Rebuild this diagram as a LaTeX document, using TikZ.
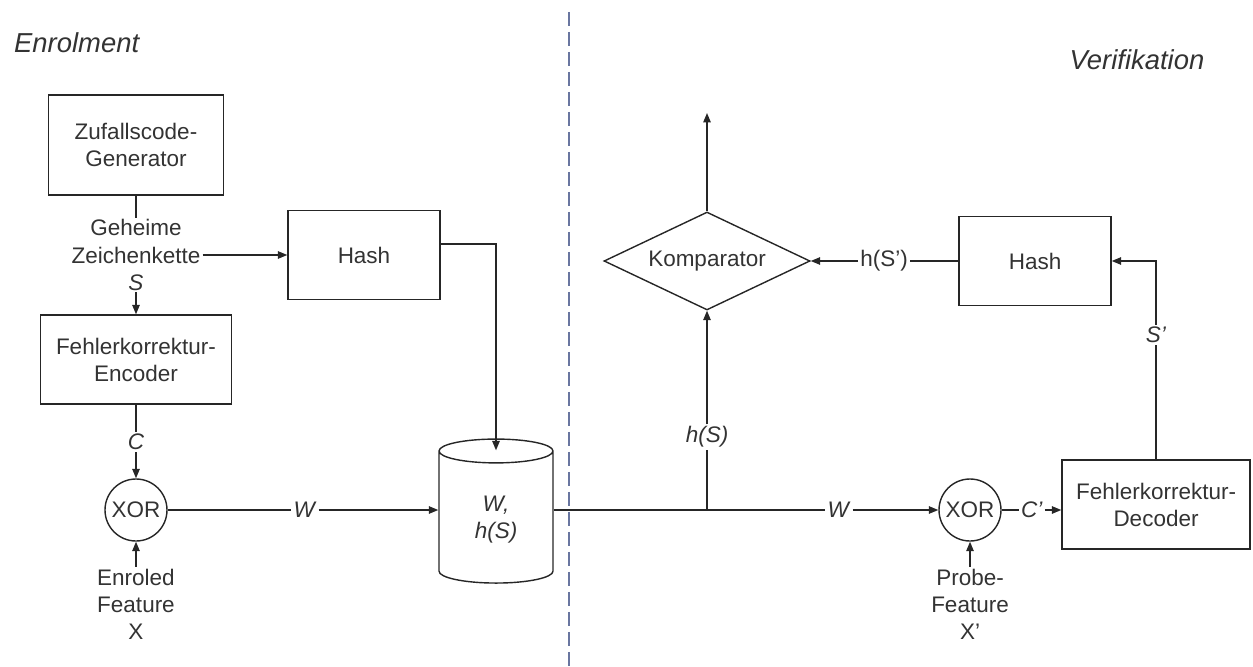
\documentclass[tikz,border=0pt]{standalone}
\usepackage{fontspec}
\setmainfont{Liberation Sans}
\usetikzlibrary{shapes.geometric,arrows.meta}

\begin{document}
\begin{tikzpicture}[
  fetext/.style = {text=black!80, font=\fontsize{12.8}{15.4}\selectfont},
  feblock/.style = {fetext, draw=black!85, line width=0.8pt, align=center,
    minimum width=3.04cm, minimum height=1.78cm},
  fexor/.style = {fetext, circle, draw=black!85, line width=0.8pt,
    minimum size=1.24cm, inner sep=0pt},
  fecmp/.style = {fetext, diamond, draw=black!85, line width=0.8pt, aspect=2.1,
    minimum width=4.12cm, minimum height=1.96cm, inner sep=0pt},
  fedb/.style = {fetext, cylinder, shape border rotate=90, draw=black!85,
    line width=0.8pt, aspect=0.44, minimum width=2.28cm, minimum height=2.88cm,
    align=center, font=\fontsize{12.8}{15.4}\selectfont\itshape},
  felbl/.style = {fetext, fill=white, inner sep=1pt, align=center},
  fehead/.style = {text=black!80, font=\fontsize{15.6}{18}\selectfont\itshape},
  feline/.style = {draw=black!85, line width=0.8pt},
  fearrow/.style = {feline, -{Triangle[length=1.9mm,width=1.5mm]}},
  fediv/.style = {draw={rgb,255:red,105;green,118;blue,160}, line width=0.8pt,
    dash pattern=on 0.28cm off 0.12cm}
]
  \useasboundingbox (0,0) rectangle (25.06,-13.34);

  % Trennlinie und Ueberschriften
  \draw[fediv] (11.38,-0.24) -- (11.38,-13.34);
  \node[fehead, anchor=west] (enr) at (0.16,-0.86) {Enrolment};
  \node[fehead] (ver) at (22.74,-1.2) {Verifikation};

  % Enrolment
  \node[feblock, minimum width=3.5cm, minimum height=2.0cm] (zuf) at (2.72,-2.9) {Zufallscode-\\Generator};
  \node[felbl] (secret) at (2.72,-5.1) {Geheime\\Zeichenkette\\\textit{S}};
  \node[feblock] (hash1) at (7.28,-5.1) {Hash};
  \node[feblock, minimum width=3.82cm] (enc) at (2.72,-7.19) {Fehlerkorrektur-\\Encoder};
  \node[felbl] (clbl) at (2.72,-8.84) {\textit{C}};
  \node[fexor] (xor1) at (2.72,-10.2) {XOR};
  \node[felbl] (enrx) at (2.72,-12.08) {Enroled\\Feature\\X};
  \node[felbl] (w1) at (6.1,-10.2) {\textit{W}};
  \node[fedb] (db) at (9.92,-10.4) {W,\\h(S)};

  % Verifikation
  \node[fecmp] (komp) at (14.14,-5.22) {Komparator};
  \coordinate (out) at (14.14,-2.26);
  \coordinate (jn) at (14.14,-10.2);
  \node[felbl] (hs) at (14.14,-8.74) {\textit{h(S)}};
  \node[felbl] (w2) at (16.78,-10.2) {\textit{W}};
  \node[fexor] (xor2) at (19.4,-10.2) {XOR};
  \node[felbl] (cp) at (20.64,-10.2) {\textit{C'}};
  \node[feblock, minimum width=3.76cm] (dec) at (23.12,-10.09) {Fehlerkorrektur-\\Decoder};
  \node[felbl] (sp) at (23.12,-6.7) {\textit{S'}};
  \node[feblock] (hash2) at (20.7,-5.22) {Hash};
  \node[felbl] (hsp) at (17.68,-5.22) {h(S')};
  \node[felbl] (probe) at (19.4,-12.08) {Probe-\\Feature\\X'};

  % Verbindungen
  \draw[feline] (zuf) -- (secret);
  \draw[fearrow] (secret) -- (enc);
  \draw[fearrow] (secret.east) -- (secret.east -| hash1.west);
  \draw[fearrow] ([yshift=0.22cm]hash1.east) -| ([yshift=-0.24cm]db.north);
  \draw[feline] (enc) -- (clbl);
  \draw[fearrow] (clbl) -- (xor1);
  \draw[fearrow] (enrx) -- (xor1);
  \draw[feline] (xor1) -- (w1);
  \draw[fearrow] (w1) -- (w1 -| db.west);
  \draw[feline] (jn -| db.east) -- (jn) -- (w2);
  \draw[fearrow] (w2) -- (xor2);
  \draw[feline] (jn) -- (hs);
  \draw[fearrow] (hs) -- (komp);
  \draw[fearrow] (komp) -- (out);
  \draw[feline] (hash2) -- (hsp);
  \draw[fearrow] (hsp) -- (komp);
  \draw[feline] (xor2) -- (cp);
  \draw[fearrow] (cp) -- (cp -| dec.west);
  \draw[feline] (dec) -- (sp);
  \draw[fearrow] (sp) |- (hash2);
  \draw[fearrow] (probe) -- (xor2);
\end{tikzpicture}
\end{document}
